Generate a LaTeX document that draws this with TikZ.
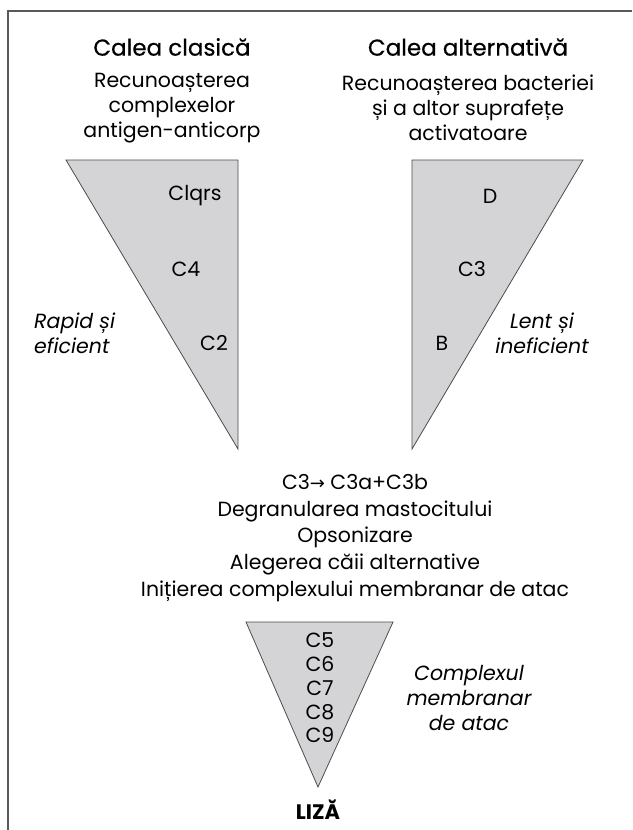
\documentclass[tikz,border=0pt]{standalone}
\usepackage{fontspec}
\setmainfont{Poppins}
\newfontfamily\headfont[FakeBold=0.5]{Poppins}
\newfontfamily\symfont{DejaVu Sans}
\begin{document}
\begin{tikzpicture}[x=1pt,y=-1pt,
  frameline/.style={draw=black!65,line width=1.4pt},
  wedge/.style={fill=wedgegray,draw=black!70,line width=0.8pt,line join=miter},
  txt/.style={inner sep=0pt,align=center,font=\fontsize{20.5}{25}\selectfont},
  head/.style={inner sep=0pt,font=\headfont\fontsize{23}{25}\selectfont},
  comp/.style={inner sep=0pt,font=\fontsize{20.5}{25}\selectfont},
  side/.style={inner sep=0pt,font=\itshape\fontsize{20.5}{25}\selectfont}]
\definecolor{wedgegray}{RGB}{212,212,214}
\useasboundingbox (0,0) rectangle (632,830);
\fill[white] (0,0) rectangle (632,830);

% open frame: left and top edges only
\draw[frameline] (8,830) -- (8,11) -- (632,11);

% classical pathway
\node[head] (clasTitle) at (172,47) {Calea clasică};
\node[txt] (clasText) at (172,108) {Recunoașterea\\complexelor\\antigen-anticorp};
\draw[wedge] (66,160) -- (238,160) -- (238,449) -- cycle;
\node[comp] (c1) at (195,196) {Clqrs};
\node[comp] (c4) at (186,269) {C4};
\node[comp] (c2) at (214,343) {C2};
\node[side,align=left,anchor=west] (fast) at (34,333) {Rapid și\\eficient};

% alternative pathway
\node[head] (altTitle) at (468,47) {Calea alternativă};
\node[txt] (altText) at (468,108) {Recunoașterea bacteriei\\și a altor suprafețe\\activatoare};
\draw[wedge] (412,160) -- (583,160) -- (412,449) -- cycle;
\node[comp] (d) at (490,196) {D};
\node[comp] (c3) at (472,269) {C3};
\node[comp] (b) at (442,343) {B};
\node[side,align=center] (slow) at (542,333) {Lent și\\ineficient};

% common step
\node[txt,font=\fontsize{20.5}{26.7}\selectfont] (common) at (355,538)
  {C3{\symfont\fontsize{18}{20}\selectfont→} C3a+C3b\\Degranularea mastocitului\\Opsonizare\\Alegerea căii alternative\\Inițierea complexului membranar de atac};

% membrane attack complex
\draw[wedge] (246,622) -- (393,622) -- (318,787) -- cycle;
\node[txt,font=\fontsize{20.5}{23.7}\selectfont] (mac) at (320,688) {C5\\C6\\C7\\C8\\C9};
\node[side,align=center] (macLabel) at (469,698) {Complexul\\membranar\\de atac};
\node[inner sep=0pt,font=\bfseries\fontsize{21}{25}\selectfont] (lysis) at (318,810) {LIZĂ};
\end{tikzpicture}
\end{document}
